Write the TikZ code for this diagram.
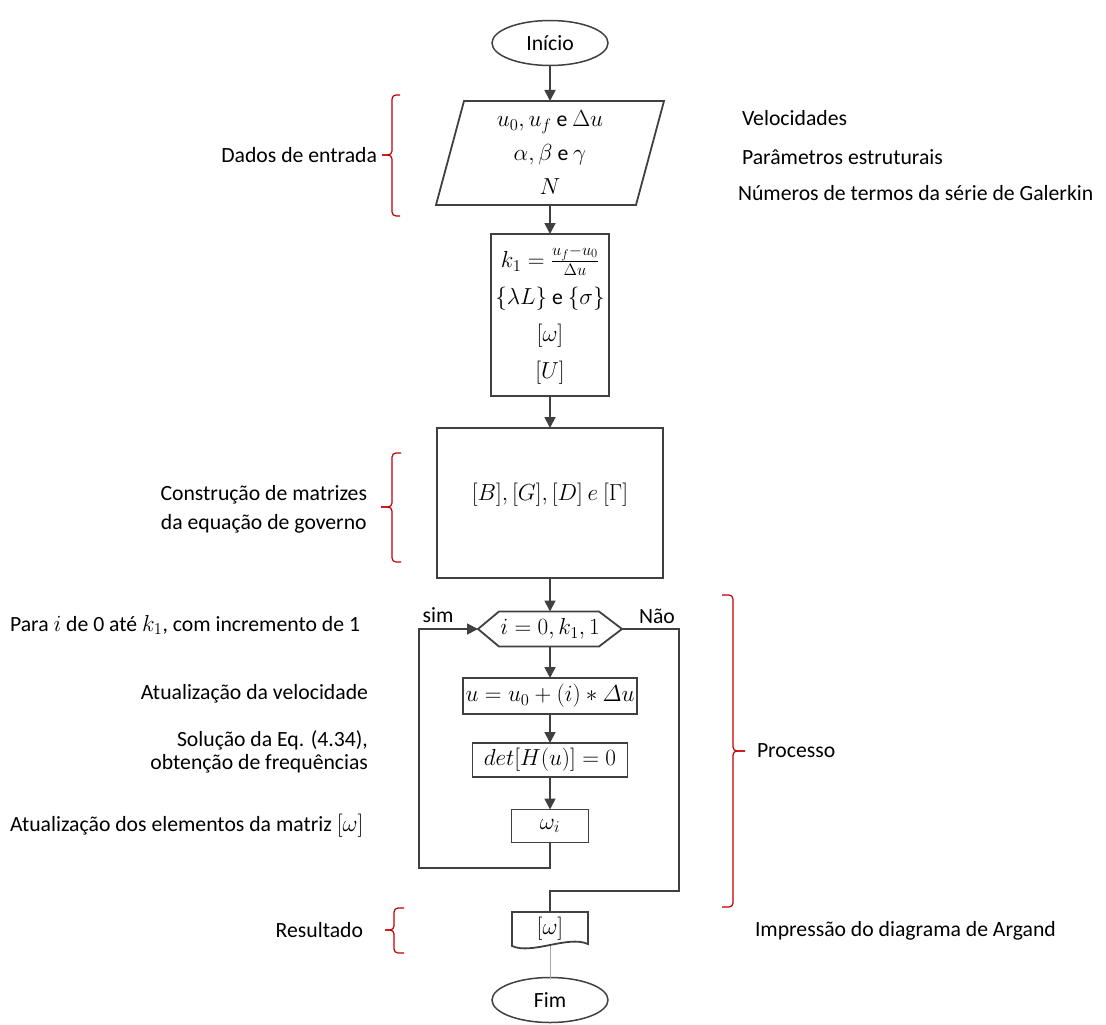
\RequirePackage{fix-cm}
\documentclass[tikz,border=0pt]{standalone}
\usepackage{amsmath}
\usepackage{fontspec}
\setmainfont{Carlito}
\DeclareMathSizes{21.7}{23.2}{16.5}{12.5}
\usetikzlibrary{shapes.geometric,arrows.meta}
\definecolor{lc}{HTML}{404040}
\definecolor{bc}{HTML}{C00000}
\begin{document}
\begin{tikzpicture}[x=1pt,y=-1pt,
  every node/.style={font=\fontsize{21.7}{26}\selectfont, inner sep=0pt, outer sep=0pt, text=black},
  ln/.style={draw=lc, line width=1.8pt},
  arr/.style={ln, -{Triangle[length=11pt,width=11pt]}},
  box/.style={rectangle, draw=lc, line width=1.8pt, align=center},
  ghost/.style={rectangle, align=center},
  term/.style={ellipse, draw=lc, line width=1.5pt, minimum width=116pt, minimum height=45pt},
  brc/.style={draw=bc, line width=1.2pt, rounded corners=4pt},
  gline/.style={draw=gray!70, line width=1pt}
]
\useasboundingbox (0,0) rectangle (1106,1025);

% main column
\node[term] (start) at (550,43) {Início};
\node[ghost, minimum width=228pt, minimum height=104pt, font=\fontsize{21.7}{34}\selectfont] (param) at (550,153) {$u_0, u_f$ e $\Delta u$\\ $\alpha,\beta$ e $\gamma$\\ $N$};
\draw[ln] (param.south west) -- ([xshift=-28pt]param.south east) -- (param.north east) -- ([xshift=28pt]param.north west) -- cycle;

\node[box, minimum width=118pt, minimum height=162pt, font=\fontsize{21.7}{37}\selectfont] (init) at (550,315) {$k_1=\frac{u_f-u_0}{\Delta u}$\\ $\{\lambda L\}$ e $\{\sigma\}$\\ $[\omega]$\\ $[U]$};

\node[box, minimum width=226pt, minimum height=150pt, text height=16pt, text depth=21pt] (mat) at (550,503) {$[B],[G],[D]\ e\ [\Gamma]$};

\node[ghost, minimum width=144pt, minimum height=35pt] (hex) at (550,629) {$i=0,k_1,1$};
\draw[ln] (hex.west) -- ([xshift=21pt]hex.north west) -- ([xshift=-23pt]hex.north east) -- (hex.east) -- ([xshift=-23pt]hex.south east) -- ([xshift=21pt]hex.south west) -- cycle;

\node[box, minimum width=174pt, minimum height=36pt] (upd) at (550,696) {$u=u_0+(i)\ast\varDelta u$};
\node[box, minimum width=155pt, minimum height=34pt] (det) at (550,760) {$det[H(u)]=0$};
\node[box, minimum width=77pt, minimum height=33pt] (wi) at (550,826) {$\omega_i$};

\node[ghost, minimum width=76pt, minimum height=34pt] (doc) at (550,929) {$[\omega]$};
\draw[ln] (doc.north west) -- (doc.north east) -- ([yshift=2pt]doc.south east) .. controls +(-20,-9) and +(20,9) .. (doc.south west) -- cycle;

\node[term] (fim) at (550,1000) {Fim};

% connectors
\draw[arr] (start) -- (param);
\draw[arr] (param) -- (init);
\draw[arr] (init) -- (mat);
\draw[arr] (mat) -- (hex);
\draw[arr] (hex) -- (upd);
\draw[arr] (upd) -- (det);
\draw[arr] (det) -- (wi);
\coordinate (loopL) at (419,868);
\draw[arr] (wi.south) |- (loopL) |- (hex.west);
\coordinate (loopR) at (679,891);
\draw[ln] (hex.east) -| (loopR) -| (doc.north);
\draw[gline] (doc.south) -- (fim);

\node (sim) at (438,615) {sim};
\node (nao) at (657,616) {Não};

% braces
\draw[brc] (400,95) -- (392,95) -- (392,155) -- (382,155);
\draw[brc] (400,216) -- (392,216) -- (392,155) -- (382,155);
\draw[brc] (401,453) -- (392,453) -- (392,507) -- (381,507);
\draw[brc] (401,562) -- (392,562) -- (392,507) -- (381,507);
\draw[brc] (722,595) -- (733,595) -- (733,751) -- (745,751);
\draw[brc] (722,907) -- (733,907) -- (733,751) -- (745,751);
\draw[brc] (404,908) -- (394,908) -- (394,930) -- (385,930);
\draw[brc] (404,953) -- (394,953) -- (394,930) -- (385,930);

% left labels
\node[anchor=east] (dados) at (377,155) {Dados de entrada};
\node[anchor=east, align=center, font=\fontsize{21.7}{29}\selectfont] (constr) at (367,509) {Construção de matrizes\\da equação de governo};
\node[anchor=west] (para) at (10,625) {Para $i$ de 0 até $k_1$, com incremento de 1};
\node[anchor=east] (atv) at (368,694) {Atualização da velocidade};
\node[anchor=east, align=right, font=\fontsize{21.7}{23}\selectfont] (sol) at (368,752) {Solução da Eq. (4.34),\\obtenção de frequências};
\node[anchor=west] (atel) at (10,826) {Atualização dos elementos da matriz $[\omega]$};
\node[anchor=east] (res) at (363,930) {Resultado};

% right labels
\node[anchor=west] (vel) at (742,118) {Velocidades};
\node[anchor=west] (parm) at (742,157) {Parâmetros estruturais};
\node[anchor=west] (num) at (738,193) {Números de termos da série de Galerkin};
\node[anchor=west] (proc) at (757,751) {Processo};
\node[anchor=west] (imp) at (755,931) {Impressão do diagrama de Argand};
\end{tikzpicture}
\end{document}
